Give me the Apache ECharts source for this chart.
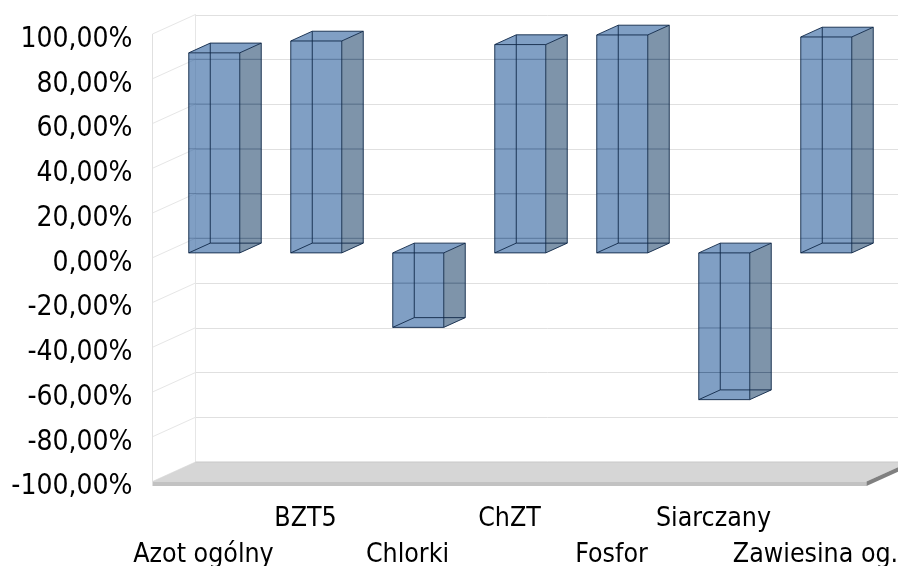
<!DOCTYPE html>
<html><head><meta charset="utf-8">
<style>html,body{margin:0;padding:0;background:#fff}#c{width:898px;height:566px}</style>
<script src="https://cdn.jsdelivr.net/npm/echarts@6/dist/echarts.min.js"></script>
</head><body><div id="c"></div>
<script>
const categories = ['Azot ogólny','BZT5','Chlorki','ChZT','Fosfor','Siarczany','Zawiesina og.'];
const values = [89.4,94.7,-33.3,93.1,97.4,-65.6,96.5];
const yTicks = [100,80,60,40,20,0,-20,-40,-60,-80,-100];
const FONT = 'DejaVu Sans Condensed';
const DEPTH = [43,-19.5];
const chart = echarts.init(document.getElementById('c'),null,{renderer:'canvas'});
const poly = (points,fill,stroke)=>({type:'polygon',shape:{points},style:{fill:fill,stroke:stroke||null,lineWidth:stroke?1:0}});
const line = (a,b,stroke,w)=>({type:'line',shape:{x1:a[0],y1:a[1],x2:b[0],y2:b[1]},style:{stroke:stroke,lineWidth:w||1}});
const at = (p,d)=>[p[0]+DEPTH[0]*d,p[1]+DEPTH[1]*d];
const EDGE='rgba(16,40,72,0.9)';
function renderBar(params,api){
  const i=api.value(0), v=api.value(1);
  const band=api.size([1,0])[0], hw=band/4;
  const c0=api.coord([i,0]), c1=api.coord([i,v]);
  const A=[c0[0]-hw,c0[1]],B=[c0[0]+hw,c0[1]],C=[c1[0]+hw,c1[1]],D=[c1[0]-hw,c1[1]];
  const n=p=>at(p,.25), f=p=>at(p,.75);
  const hi=v>=0?[D,C]:[A,B], lo=v>=0?[A,B]:[D,C];
  const topF=f(hi[0])[1], topN=n(hi[0])[1], botF=f(lo[0])[1], botN=n(lo[0])[1];
  const xL=n(A)[0], xR=f(B)[0], slant=f(A)[0]-n(A)[0];
  const grid=[];
  yTicks.forEach(t=>{
    const y=api.coord([0,t])[1]+DEPTH[1];
    if(y<=topF||y>=botN) return;
    const l=y<topN?xL+slant*(topN-y)/(topN-topF):xL;
    const r=y>botF?xR-slant*(y-botF)/(botN-botF):xR;
    grid.push(line([l,y],[r,y],'rgba(25,50,85,0.28)'));
  });
  return {type:'group',children:[
    poly([n(hi[0]),n(hi[1]),f(hi[1]),f(hi[0])],'rgba(50,100,160,0.62)'),
    poly([n(B),n(C),f(C),f(B)],'rgba(20,60,100,0.55)'),
    poly([n(A),n(B),n(C),n(D)],'rgba(50,100,160,0.62)'),
    ...grid,
    line(f(A),f(B),EDGE),line(f(B),f(C),EDGE),line(f(C),f(D),EDGE),line(f(D),f(A),EDGE),
    line(n(A),f(A),EDGE),line(n(B),f(B),EDGE),line(n(C),f(C),EDGE),line(n(D),f(D),EDGE),
    line(n(A),n(B),EDGE),line(n(B),n(C),EDGE),line(n(C),n(D),EDGE),line(n(D),n(A),EDGE)
  ]};
}
function renderWall(params,api){
  const p=api.coord([0,api.value(0)]);
  const band=api.size([1,0])[0];
  const L=[p[0]-band/2,p[1]];
  return line(L,at(L,1),'#e6e6e6');
}
function renderFrame(params,api){
  const band=api.size([1,0])[0];
  const t=api.coord([0,100]), b=api.coord([0,-100]), r=api.coord([categories.length-1,-100]);
  const TL=[t[0]-band/2,t[1]], BL=[b[0]-band/2,b[1]], BR=[r[0]+band/2,r[1]];
  const TH=4.5;
  return {type:'group',children:[
    line(TL,BL,'#e0e0e0'),
    line(at(TL,1),at(BL,1),'#e6e6e6'),
    poly([BL,BR,at(BR,1),at(BL,1)],'#d6d6d6'),
    line(at(BL,1),at(BR,1),'#c8c8c8'),
    poly([BL,BR,[BR[0],BR[1]+TH],[BL[0],BL[1]+TH]],'#c2c2c2'),
    poly([BR,at(BR,1),[at(BR,1)[0],at(BR,1)[1]+TH],[BR[0],BR[1]+TH]],'#808080')
  ]};
}
chart.setOption({
  animation:false,
  backgroundColor:'#fff',
  grid:[
    {left:152.5,top:34,width:714,height:447.5,outerBoundsMode:'none'},
    {left:195.5,top:15,width:714,height:447,outerBoundsMode:'none'}
  ],
  xAxis:[
    {type:'category',gridIndex:0,data:categories,axisLine:{show:false},axisTick:{show:false},
     axisLabel:{interval:0,margin:20,color:'#000',fontFamily:FONT,fontSize:26.5,lineHeight:36,hideOverlap:false,
       formatter:(s,i)=>i%2?s+'\n ':' \n'+s}},
    {type:'category',gridIndex:1,data:categories,show:false}
  ],
  yAxis:[
    {type:'value',gridIndex:0,min:-100,max:100,interval:20,axisLine:{show:false},axisTick:{show:false},splitLine:{show:false},
     axisLabel:{margin:20,color:'#000',fontFamily:FONT,fontSize:28,verticalAlign:'top',lineHeight:11,
       formatter:v=>v.toFixed(2).replace('.',',')+'%'}},
    {type:'value',gridIndex:1,min:-100,max:100,interval:20,axisLine:{show:false},axisTick:{show:false},axisLabel:{show:false},
     splitLine:{show:true,lineStyle:{color:'#e0e0e0',width:1}}}
  ],
  series:[
    {type:'custom',name:'walls',xAxisIndex:0,yAxisIndex:0,clip:false,z:1,data:yTicks.map(v=>[v]),
     encode:{y:0},renderItem:renderWall,silent:true},
    {type:'custom',name:'frame',xAxisIndex:0,yAxisIndex:0,clip:false,z:2,data:[[0]],renderItem:renderFrame,silent:true},
    {type:'custom',name:'bars',xAxisIndex:0,yAxisIndex:0,clip:false,z:3,
     data:values.map((v,i)=>[i,v]),encode:{x:0,y:1},renderItem:renderBar}
  ]
});
</script></body></html>
